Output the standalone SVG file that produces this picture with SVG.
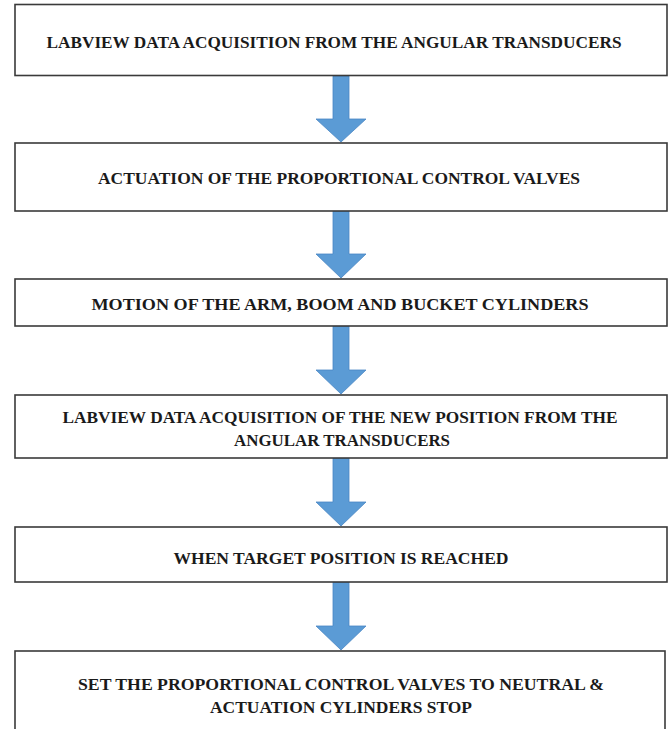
<svg xmlns="http://www.w3.org/2000/svg" width="671" height="729" viewBox="0 0 671 729">
<style>
.box{fill:#ffffff;stroke:#3a3a3a;stroke-width:1.6}
.t{font-family:"Liberation Serif","Times New Roman",serif;font-weight:bold;font-size:17px;fill:#1a1a1a;text-anchor:middle}
.arr{fill:#5b9bd5;stroke:#4a87c4;stroke-width:0.8}
</style>
<rect x="0" y="0" width="671" height="729" fill="#ffffff"/>
<g id="connectors">
<polygon class="arr" points="333,76 349,76 349,119 366,119 341,142 316,119 333,119"/>
<polygon class="arr" points="333,211 349,211 349,254 366,254 341,278 316,254 333,254"/>
<polygon class="arr" points="333,326 349,326 349,370 366,370 341,394 316,370 333,370"/>
<polygon class="arr" points="333,458 349,458 349,502 366,502 341,526 316,502 333,502"/>
<polygon class="arr" points="333,582 349,582 349,626 366,626 341,650 316,626 333,626"/>
</g>
<g id="n1">
<rect class="box" x="15" y="4.5" width="652" height="71"/>
<text class="t" x="334" y="47.5" textLength="575" lengthAdjust="spacingAndGlyphs">LABVIEW DATA ACQUISITION FROM THE ANGULAR TRANSDUCERS</text>
</g>
<g id="n2">
<rect class="box" x="15" y="143" width="652" height="68"/>
<text class="t" x="339" y="184" textLength="482" lengthAdjust="spacingAndGlyphs">ACTUATION OF THE PROPORTIONAL CONTROL VALVES</text>
</g>
<g id="n3">
<rect class="box" x="15" y="279" width="652" height="47"/>
<text class="t" x="340" y="309.5" textLength="497" lengthAdjust="spacingAndGlyphs">MOTION OF THE ARM, BOOM AND BUCKET CYLINDERS</text>
</g>
<g id="n4">
<rect class="box" x="15" y="395" width="652" height="63"/>
<text class="t" x="340" y="422.5" textLength="555" lengthAdjust="spacingAndGlyphs">LABVIEW DATA ACQUISITION OF THE NEW POSITION FROM THE</text>
<text class="t" x="342" y="445.5" textLength="216" lengthAdjust="spacingAndGlyphs">ANGULAR TRANSDUCERS</text>
</g>
<g id="n5">
<rect class="box" x="15" y="527" width="652" height="55"/>
<text class="t" x="341" y="564" textLength="335" lengthAdjust="spacingAndGlyphs">WHEN TARGET POSITION IS REACHED</text>
</g>
<g id="n6">
<rect class="box" x="15" y="651" width="650" height="90"/>
<text class="t" x="341" y="690" textLength="526" lengthAdjust="spacingAndGlyphs">SET THE PROPORTIONAL CONTROL VALVES TO NEUTRAL &amp;</text>
<text class="t" x="341" y="713" textLength="262" lengthAdjust="spacingAndGlyphs">ACTUATION CYLINDERS STOP</text>
</g>
</svg>
